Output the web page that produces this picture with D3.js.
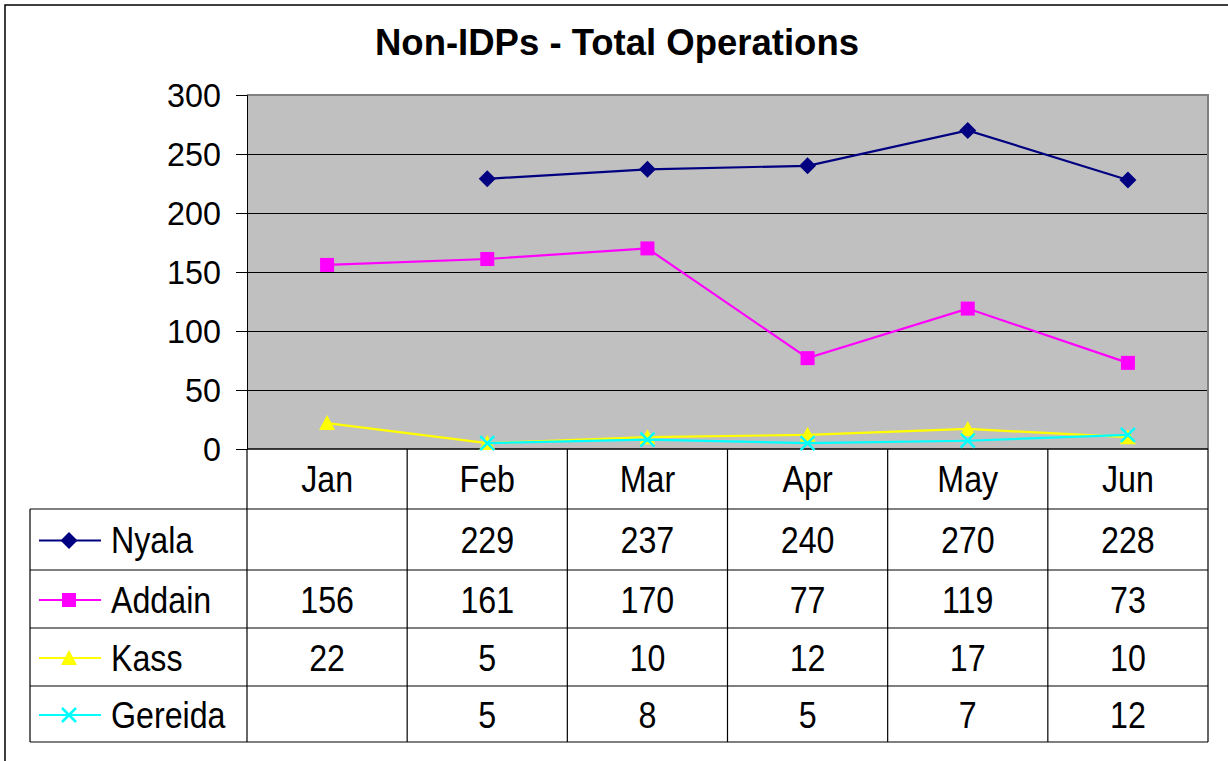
<!DOCTYPE html>
<html><head><meta charset="utf-8">
<script src="https://cdn.jsdelivr.net/npm/d3@7"></script>
<style>body{margin:0;background:#fff}svg{display:block}text{font-family:"Liberation Sans",Arial,sans-serif}</style>
</head><body>
<svg id="c" width="1228" height="761"></svg>
<script>
const categories = ["Jan","Feb","Mar","Apr","May","Jun"];
const seriesNames = ["Nyala","Addain","Kass","Gereida"];
const nyala   = [null,229,237,240,270,228];
const addain  = [156,161,170,77,119,73];
const kass    = [22,5,10,12,17,10];
const gereida = [null,5,8,5,7,12];
const yTicks = [0,50,100,150,200,250,300];
const colors = ["#000080","#FF00FF","#FFFF00","#00FFFF"];
const shapes = ["diamond","square","triangle","x"];
const title = "Non-IDPs - Total Operations";

const series = seriesNames.map((n,i)=>({name:n, values:[nyala,addain,kass,gereida][i], color:colors[i], shape:shapes[i]}));

const svg = d3.select("#c");
const L=247, R=1208, T=95, B=449;
const rowY=[449,509,570,628,686,742];
const tableLeft=30;
const FS=37, SX=0.87;

function txt(xp, yp, s, anchor, size, sx, weight){
  return svg.append("text").attr("transform",`translate(${xp},${yp}) scale(${sx},1)`)
    .attr("dy","0.35em").attr("text-anchor",anchor).attr("font-size",size)
    .attr("font-weight",weight||"normal").attr("fill","#000").text(s);
}

// outer frame
svg.append("path").attr("d","M5,800 L5,5 L1300,5").attr("fill","none").attr("stroke","#000").attr("stroke-width",1.5);

svg.append("text").attr("x",617).attr("y",55).attr("text-anchor","middle")
  .attr("font-size",36.5).attr("font-weight","bold").text(title);

const x = d3.scaleBand().domain(categories).range([L,R]);
const y = d3.scaleLinear().domain([0,300]).range([B,T]);

svg.append("rect").attr("x",L).attr("y",T).attr("width",R-L).attr("height",B-T).attr("fill","#C0C0C0");

// gridlines
svg.append("g").selectAll("line").data(yTicks.filter(d=>d>0&&d<300)).join("line")
  .attr("x1",L).attr("x2",R).attr("y1",d=>Math.round(y(d))+0.5).attr("y2",d=>Math.round(y(d))+0.5).attr("stroke","#000").attr("stroke-width",1);
// plot border
svg.append("path").attr("d",`M${L},${T} L${R},${T} L${R},${B}`).attr("fill","none").attr("stroke","#808080").attr("stroke-width",2);

// y axis
const ya = svg.append("g").attr("transform",`translate(${L},0)`)
  .call(d3.axisLeft(y).tickValues(yTicks).tickSize(11).tickFormat(""));
ya.select(".domain").attr("stroke","#000");
ya.selectAll("line").attr("stroke","#000");
yTicks.forEach(t=>txt(221, y(t), d3.format("d")(t), "end", 34, 0.95));

// table grid
const g = svg.append("g");
g.append("line").attr("x1",L).attr("x2",R).attr("y1",B).attr("y2",B).attr("stroke","#000").attr("stroke-width",1.5);
rowY.slice(1).forEach(ry=>{
  g.append("line").attr("x1",tableLeft).attr("x2",R).attr("y1",ry).attr("y2",ry).attr("stroke","#000").attr("stroke-width",1.2);
});
g.append("line").attr("x1",tableLeft).attr("x2",tableLeft).attr("y1",rowY[1]).attr("y2",rowY[5]).attr("stroke","#000").attr("stroke-width",1.2);
categories.forEach(c=>{
  g.append("line").attr("x1",x(c)).attr("x2",x(c)).attr("y1",B).attr("y2",rowY[5]).attr("stroke","#000").attr("stroke-width",1.2);
});
g.append("line").attr("x1",R).attr("x2",R).attr("y1",B).attr("y2",rowY[5]).attr("stroke","#000").attr("stroke-width",1.2);

// category labels
categories.forEach(c=>txt(x(c)+x.bandwidth()/2, (rowY[0]+rowY[1])/2, c, "middle", FS, SX));

function marker(sel, shape, color){
  if(shape==="diamond") sel.append("path").attr("d","M0,-8.5 L8.5,0 L0,8.5 L-8.5,0Z").attr("fill",color);
  else if(shape==="square") sel.append("rect").attr("x",-7).attr("y",-7).attr("width",14).attr("height",14).attr("fill",color);
  else if(shape==="triangle") sel.append("path").attr("d","M0,-8 L8,7 L-8,7Z").attr("fill",color);
  else sel.append("path").attr("d","M-7,-7 L7,7 M-7,7 L7,-7").attr("stroke",color).attr("stroke-width",2.5).attr("fill","none");
}

// lines and markers
const line = d3.line().defined(d=>d.v!=null).x(d=>x(d.c)+x.bandwidth()/2).y(d=>y(d.v));
series.forEach(s=>{
  const pts = categories.map((c,i)=>({c, v:s.values[i]}));
  svg.append("path").datum(pts).attr("d",line).attr("fill","none").attr("stroke",s.color).attr("stroke-width",2.2);
  pts.filter(p=>p.v!=null).forEach(p=>{
    const m = svg.append("g").attr("transform",`translate(${x(p.c)+x.bandwidth()/2},${y(p.v)})`);
    marker(m, s.shape, s.color);
  });
});

// table rows
series.forEach((s,i)=>{
  const cy=(rowY[i+1]+rowY[i+2])/2+1;
  svg.append("line").attr("x1",39).attr("x2",101).attr("y1",cy).attr("y2",cy).attr("stroke",s.color).attr("stroke-width",2.2);
  marker(svg.append("g").attr("transform",`translate(69,${cy})`), s.shape, s.color);
  txt(111, cy, s.name, "start", FS, SX);
  categories.forEach((c,j)=>{
    if(s.values[j]!=null) txt(x(c)+x.bandwidth()/2, cy, s.values[j], "middle", FS, SX);
  });
});
</script>
</body></html>
